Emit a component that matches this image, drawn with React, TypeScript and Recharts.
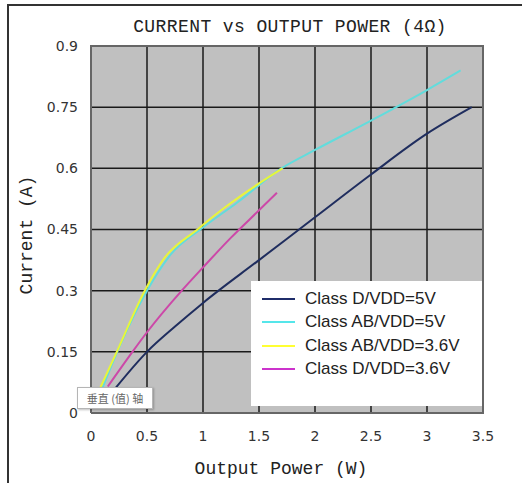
import { LineChart, Line, XAxis, YAxis, CartesianGrid } from 'recharts';

const xTicks = [0, 0.5, 1, 1.5, 2, 2.5, 3, 3.5];
const yTicks = [0, 0.15, 0.3, 0.45, 0.6, 0.75, 0.9];

// Class D, VDD = 5V
const classD5Power = [0.2, 0.5, 0.75, 1.0, 1.5, 2.0, 2.5, 3.0, 3.4];
const classD5Current = [0.055, 0.15, 0.212, 0.27, 0.375, 0.48, 0.585, 0.685, 0.75];

// Class AB, VDD = 5V
const classAB5Power = [0.1, 0.25, 0.5, 0.7, 1.0, 1.3, 1.7, 2.0, 2.5, 3.0, 3.3];
const classAB5Current = [0.06, 0.16, 0.3, 0.385, 0.455, 0.515, 0.6, 0.645, 0.717, 0.792, 0.84];

// Class AB, VDD = 3.6V
const classAB36Power = [0.08, 0.23, 0.48, 0.65, 0.95, 1.2, 1.5, 1.71];
const classAB36Current = [0.06, 0.15, 0.3, 0.378, 0.45, 0.505, 0.563, 0.6];

// Class D, VDD = 3.6V
const classD36Power = [0.15, 0.37, 0.5, 0.81, 1.0, 1.25, 1.5, 1.66];
const classD36Current = [0.065, 0.15, 0.198, 0.3, 0.357, 0.43, 0.497, 0.54];

const toRows = (power: number[], current: number[]) =>
  power.map((p, i) => ({ power: p, current: current[i] }));

const series = [
  { name: 'Class D/VDD=5V', color: '#1f2d5e', legendColor: '#1f2d6a', rows: toRows(classD5Power, classD5Current) },
  { name: 'Class AB/VDD=5V', color: '#62dcdc', legendColor: '#55e6ea', rows: toRows(classAB5Power, classAB5Current) },
  { name: 'Class AB/VDD=3.6V', color: '#e8f53a', legendColor: '#ffff33', rows: toRows(classAB36Power, classAB36Current) },
  { name: 'Class D/VDD=3.6V', color: '#cc48a8', legendColor: '#cc33cc', rows: toRows(classD36Power, classD36Current) },
];

const monoFont = '"Liberation Mono", "DejaVu Sans Mono", monospace';
const tickStyle = { fill: '#333', fontSize: 14, fontFamily: '"DejaVu Sans", sans-serif' };

export default function App() {
  return (
    <div style={{ position: 'absolute', left: 0, top: 0, width: 522, height: 483, overflow: 'hidden', background: '#fff' }}>
      <div style={{ position: 'absolute', left: 7, top: 4, right: -10, bottom: -10, borderLeft: '2px solid #333', borderTop: '2px solid #333' }} />

      <div style={{ position: 'absolute', left: 90, top: 16, width: 400, textAlign: 'center', fontFamily: monoFont, fontSize: 18, letterSpacing: 0.4, color: '#222', lineHeight: '22px' }}>
        CURRENT vs OUTPUT POWER (4Ω)
      </div>

      <LineChart
        width={522}
        height={483}
        margin={{ top: 46, right: 39, left: 0, bottom: 0 }}
        style={{ position: 'absolute', left: 0, top: 0 }}
      >
        <CartesianGrid fill="#c0c0c0" stroke="#1a1a1a" strokeWidth={1.5} strokeOpacity={1} />
        <XAxis
          type="number"
          dataKey="power"
          domain={[0, 3.5]}
          ticks={xTicks}
          allowDataOverflow
          tickLine={false}
          axisLine={{ stroke: '#666', strokeWidth: 2 }}
          tick={tickStyle}
          tickMargin={12}
          height={70}
        />
        <YAxis
          type="number"
          domain={[0, 0.9]}
          ticks={yTicks}
          allowDataOverflow
          tickLine={false}
          axisLine={{ stroke: '#666', strokeWidth: 2 }}
          tick={tickStyle}
          tickMargin={7}
          width={91}
        />
        {series.map((s) => (
          <Line
            key={s.name}
            data={s.rows}
            dataKey="current"
            name={s.name}
            type="monotone"
            stroke={s.color}
            strokeWidth={2}
            dot={false}
            isAnimationActive={false}
          />
        ))}
      </LineChart>

      {/* plot frame */}
      <div style={{ position: 'absolute', left: 90, top: 45, width: 392, height: 367, borderTop: '2px solid #666', borderRight: '2px solid #666', pointerEvents: 'none' }} />

      {/* legend */}
      <div style={{ position: 'absolute', left: 251, top: 281, width: 231, height: 125, background: '#fff', paddingTop: 6, boxSizing: 'border-box' }}>
        {series.map((s) => (
          <div key={s.name} style={{ position: 'relative', height: 23.3 }}>
            <div style={{ position: 'absolute', left: 11, top: 11, width: 33, height: 2, background: s.legendColor }} />
            <div style={{ position: 'absolute', left: 54, top: 0, lineHeight: '23px', fontFamily: '"Liberation Sans", Arial, sans-serif', fontSize: 17, color: '#222', whiteSpace: 'nowrap' }}>
              {s.name}
            </div>
          </div>
        ))}
      </div>

      {/* axis hover label left over from the spreadsheet */}
      <div style={{ position: 'absolute', left: 77, top: 387, width: 76, height: 22, boxSizing: 'border-box', border: '1px solid #b5b5b5', background: '#fff', boxShadow: '1px 1px 2px rgba(0,0,0,0.25)', display: 'flex', alignItems: 'center', justifyContent: 'center', fontFamily: '"Noto Sans CJK SC", sans-serif', fontSize: 11, color: '#666' }}>
        垂直 (值) 轴
      </div>

      <div style={{ position: 'absolute', left: 81, top: 458, width: 400, textAlign: 'center', fontFamily: monoFont, fontSize: 18, color: '#222', lineHeight: '22px' }}>
        Output Power (W)
      </div>

      <div style={{ position: 'absolute', left: -73, top: 224, width: 200, height: 22, lineHeight: '22px', textAlign: 'center', transform: 'rotate(-90deg)', fontFamily: monoFont, fontSize: 18, color: '#222' }}>
        Current (A)
      </div>
    </div>
  );
}
